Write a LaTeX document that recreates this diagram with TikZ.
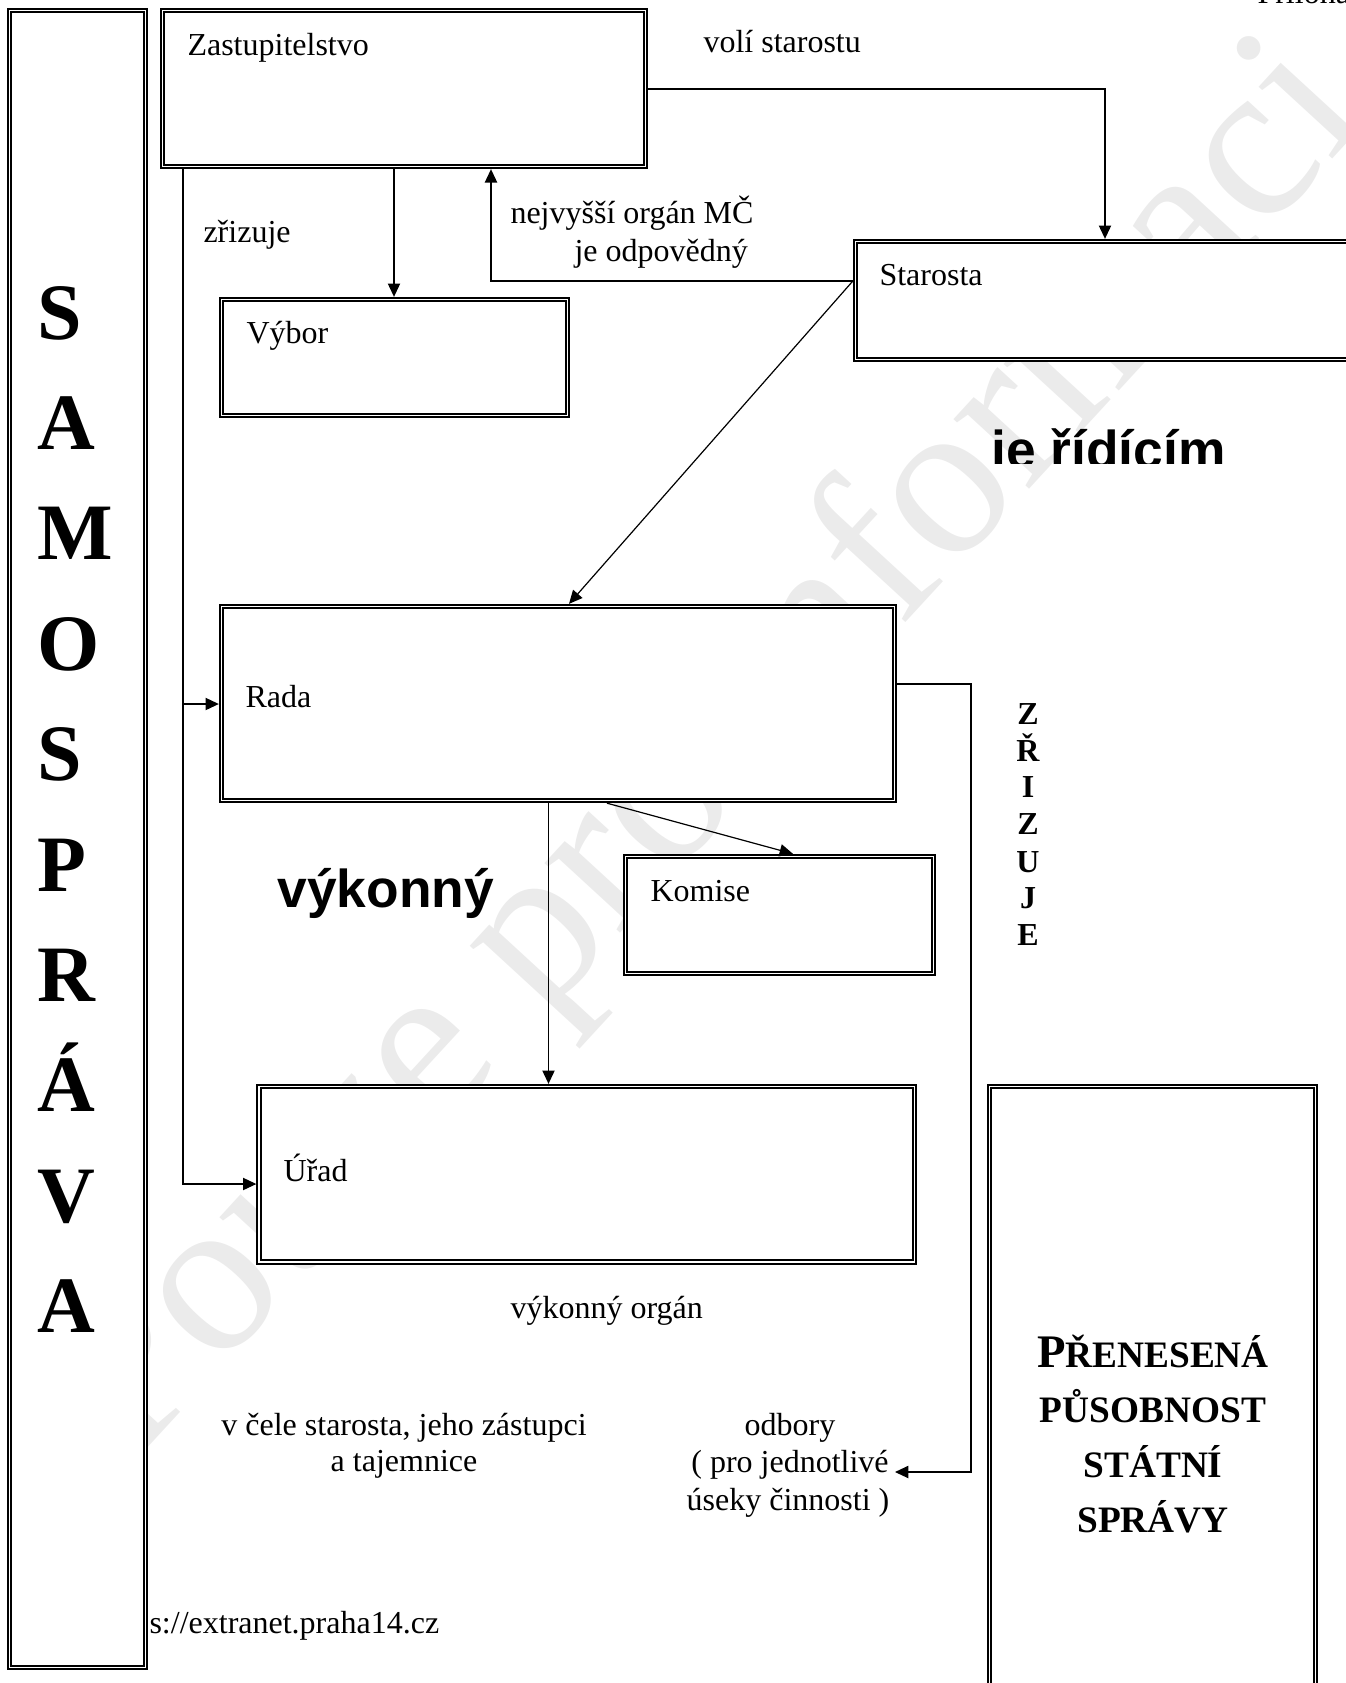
\documentclass[tikz,border=0pt]{standalone}
\usepackage{fontspec}
\setmainfont{Liberation Serif}
\newfontfamily\sansf{Liberation Sans}
\usetikzlibrary{arrows.meta,fit}
\begin{document}
\begin{tikzpicture}[x=0.375pt,y=-0.375pt,
  box/.style={draw, double, line width=0.75pt, double distance=0.5pt, fill=white, inner sep=0pt, outer sep=1pt},
  arr/.style={line width=0.45pt, -{Triangle[length=5pt,width=4.6pt]}},
  txt/.style={inner sep=0pt, anchor=base west, font=\fontsize{12}{14}\selectfont},
  ctxt/.style={inner sep=0pt, anchor=base, font=\fontsize{12}{14}\selectfont},
  bigl/.style={inner sep=0pt, anchor=base west, font=\fontsize{30}{32}\selectfont\bfseries},
  vl/.style={inner sep=0pt, anchor=base, font=\fontsize{12}{14}\selectfont\bfseries},
  pl/.style={inner sep=0pt, anchor=base, font=\fontsize{14}{16}\selectfont\bfseries},
  sansbig/.style={inner sep=0pt, anchor=base west, font=\sansf\fontsize{20}{22}\selectfont\bfseries},
  wmark/.style={inner sep=0pt, text=black!8, font=\fontsize{84}{84}\selectfont}]
\useasboundingbox (0,0) rectangle (1346,1683);
% watermark
\node[wmark, rotate=47.4] (wm) at (712,753) {Pouze pro informaci};
% boxes
\node[box, fit={(9.5,10.5) (145.5,1667.5)}] (samo) {};
\node[box, fit={(162.5,10.5) (645.5,166.5)}] (zast) {};
\node[box, fit={(855.5,241.5) (1365,359.5)}] (staro) {};
\node[box, fit={(221.5,299.5) (567.5,415.5)}] (vybor) {};
\node[box, fit={(221.5,606.5) (894.5,800.5)}] (rada) {};
\node[box, fit={(625.5,856.5) (933.5,973.5)}] (komise) {};
\node[box, fit={(259,1086.5) (914.5,1262)}] (urad) {};
\node[box, fit={(989.5,1086.5) (1315.5,1700)}] (pren) {};
% connectors
\draw[arr] (zast.east |- 0,89) -| (staro.north -| 1105,0);
\draw[arr] (zast.south -| 394,0) -- (vybor.north -| 394,0);
\draw[arr] (staro.west |- 0,281) -| (zast.south -| 491,0);
\draw[arr] (staro.west |- 0,281) -- (rada.north -| 569,0);
\coordinate (zb) at (183,704);
\draw[arr] (zast.south -| 183,0) |- (urad.west |- 0,1184);
\draw[arr] (zb) -- (rada.west |- zb);
\draw[arr] (rada.south -| 548.5,0) -- (urad.north -| 548.5,0);
\draw[arr] (rada.south -| 607,0) -- (komise.north -| 793,0);
\coordinate (odbtip) at (895,1472);
\draw[arr] (rada.east |- 0,684) -- (971,684) -- (971,1472) -- (odbtip);
% texts
\node[txt] (priloha) at (1257,3) {Příloha};
\node[txt] (zastT) at (187,55) {Zastupitelstvo};
\node[txt] (voli) at (703,52) {volí starostu};
\node[txt] (zrizuje) at (203,242) {zřizuje};
\node[txt] (nejv1) at (510,223) {nejvyšší orgán MČ};
\node[txt] (nejv2) at (574,261) {je odpovědný};
\node[txt] (staroT) at (879,285) {Starosta};
\node[txt] (vyborT) at (246,343) {Výbor};
\node[txt] (radaT) at (245,707) {Rada};
\node[txt] (komiseT) at (650,901) {Komise};
\node[txt] (uradT) at (283,1181) {Úřad};
\node[txt] (vorg) at (510,1318) {výkonný orgán};
\node[ctxt] (vcele1) at (404,1435) {v čele starosta, jeho zástupci};
\node[ctxt] (vcele2) at (404,1471) {a tajemnice};
\node[ctxt] (odb1) at (790,1435) {odbory};
\node[ctxt] (odb2) at (790,1472) {( pro jednotlivé};
\node[ctxt] (odb3) at (788,1510) {úseky činnosti )};
\node[txt] (url) at (149,1633) {s://extranet.praha14.cz};
\node[sansbig] (vyk) at (277,907) {výkonný};
\begin{scope}
\clip (900,400) rectangle (1300,463);
\node[sansbig] (rid) at (991,468) {je řídícím};
\end{scope}
% SAMOSPRAVA
\foreach \l [count=\i] in {S,A,M,O,S,P,R,Á,V,A}
  \node[bigl] (sl\i) at (37,{339+110.4*(\i-1)}) {\l};
% ZRIZUJE
\foreach \l/\yy [count=\i] in {Z/724,Ř/761,I/797,Z/834,U/872,J/908,E/945}
  \node[vl] (zl\i) at (1028,\yy) {\l};
% prenesena
\node[pl] (p1) at (1153,1367) {{\fontsize{17.5}{18}\selectfont P}ŘENESENÁ};
\node[pl] (p2) at (1153,1422) {PŮSOBNOST};
\node[pl] (p3) at (1153,1477) {STÁTNÍ};
\node[pl] (p4) at (1153,1532) {SPRÁVY};
\end{tikzpicture}
\end{document}
